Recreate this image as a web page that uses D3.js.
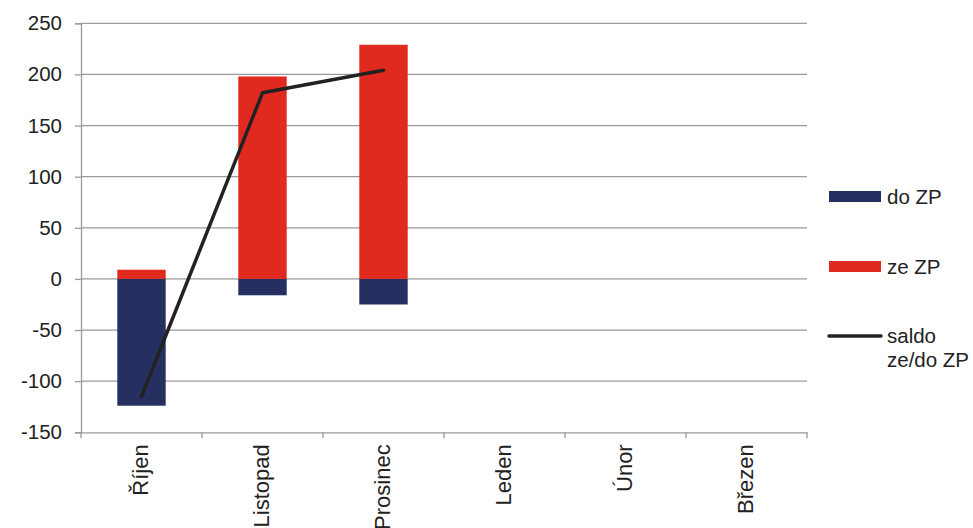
<!DOCTYPE html>
<html><head><meta charset="utf-8">
<script src="https://cdn.jsdelivr.net/npm/d3@7"></script>
<style>body{margin:0;background:#fff}svg{display:block;font-family:"Liberation Sans",Arial,sans-serif}</style>
</head><body>
<svg id="c" width="973" height="528"></svg>
<script>
const categories = ["Říjen","Listopad","Prosinec","Leden","Únor","Březen"];
const doZP = [-124, -16, -25, null, null, null];
const zeZP = [9, 198, 229, null, null, null];
const saldo = [-115, 182, 204, null, null, null];
const yTicks = [-150,-100,-50,0,50,100,150,200,250];

const svg = d3.select("#c");
const L = 81, R = 807, T = 23.3, B = 432.3;
const xc = d3.scaleBand().domain(categories).range([L, R]);
const barW = xc.step() * 0.4;
const cx = d => xc(d) + xc.bandwidth() / 2;
const y = d3.scaleLinear().domain([-150, 250]).range([B, T]);
const grid = "#9a9a9a";

// gridlines
svg.append("g").selectAll("line").data(yTicks.filter(d=>d>-150)).join("line")
  .attr("x1", L).attr("x2", R).attr("y1", d=>y(d)).attr("y2", d=>y(d))
  .attr("stroke", grid).attr("stroke-width", 1.3);

// y axis
const ya = svg.append("g").attr("transform", `translate(${L},0)`)
  .call(d3.axisLeft(y).tickValues(yTicks).tickSize(6).tickPadding(13).tickFormat(d => String(d)));
ya.select(".domain").attr("stroke", grid).attr("stroke-width", 1.3);
ya.selectAll(".tick line").attr("stroke", grid).attr("stroke-width", 1.3);
ya.selectAll("text").attr("font-size", 20.5).attr("fill", "#222").attr("font-family", "Liberation Sans, Arial, sans-serif");

// x axis
const xa = svg.append("g").attr("transform", `translate(0,${B})`)
  .call(d3.axisBottom(xc).tickSize(0).tickFormat(""));
xa.select(".domain").attr("stroke", grid).attr("stroke-width", 1.3);
svg.append("g").selectAll("line").data(d3.range(categories.length+1)).join("line")
  .attr("x1", i => L + i*xc.step()).attr("x2", i => L + i*xc.step())
  .attr("y1", B).attr("y2", B+6).attr("stroke", grid).attr("stroke-width", 1.3);
svg.append("g").selectAll("text").data(categories).join("text")
  .attr("transform", d => `translate(${cx(d)+6},${B+12}) rotate(-90)`)
  .attr("text-anchor", "end").attr("font-size", 22).attr("fill", "#222").text(d => d);

// bars
const navy = "#253060", red = "#e02a20";
svg.append("g").selectAll("rect").data(categories.map((c,i)=>({c, v: doZP[i]})).filter(d=>d.v!=null)).join("rect")
  .attr("x", d=>cx(d.c)-barW/2).attr("width", barW)
  .attr("y", y(0)).attr("height", d=>y(d.v)-y(0)).attr("fill", navy);
svg.append("g").selectAll("rect").data(categories.map((c,i)=>({c, v: zeZP[i]})).filter(d=>d.v!=null)).join("rect")
  .attr("x", d=>cx(d.c)-barW/2).attr("width", barW)
  .attr("y", d=>y(d.v)).attr("height", d=>y(0)-y(d.v)).attr("fill", red);

// line
const pts = categories.map((c,i)=>({c, v: saldo[i]})).filter(d=>d.v!=null);
svg.append("path").datum(pts)
  .attr("d", d3.line().x(d=>cx(d.c)).y(d=>y(d.v)))
  .attr("fill","none").attr("stroke","#222").attr("stroke-width",3.5).attr("stroke-linecap","round").attr("stroke-linejoin","round");

// legend
const lg = svg.append("g");
lg.append("rect").attr("x",829).attr("y",191).attr("width",52).attr("height",11).attr("fill",navy);
lg.append("text").attr("x",887).attr("y",204).attr("font-size",20.5).attr("fill","#222").text("do ZP");
lg.append("rect").attr("x",829).attr("y",261).attr("width",52).attr("height",11).attr("fill",red);
lg.append("text").attr("x",887).attr("y",274).attr("font-size",20.5).attr("fill","#222").text("ze ZP");
lg.append("line").attr("x1",829).attr("x2",881).attr("y1",336).attr("y2",336).attr("stroke","#222").attr("stroke-width",3.5).attr("stroke-linecap","round");
const t = lg.append("text").attr("x",887).attr("y",343).attr("font-size",20.5).attr("fill","#222");
t.append("tspan").attr("x",887).text("saldo");
t.append("tspan").attr("x",887).attr("dy",24).text("ze/do ZP");
</script>
</body></html>
